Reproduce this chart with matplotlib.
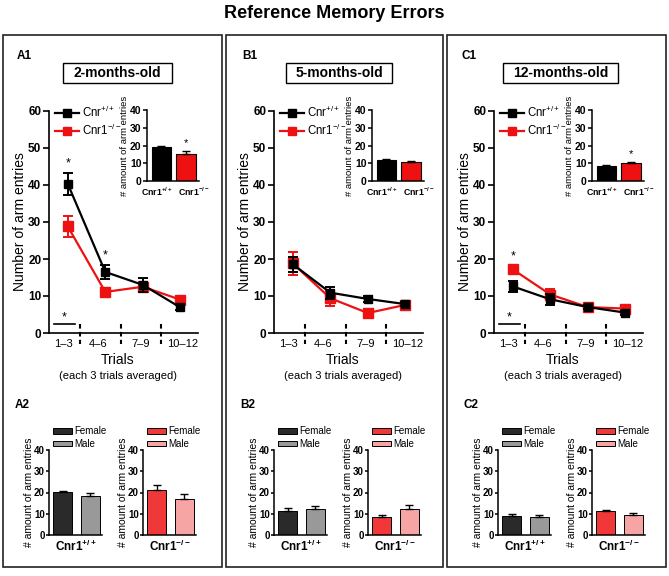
import matplotlib
matplotlib.use("Agg")
import matplotlib.pyplot as plt
from matplotlib.patches import Rectangle
from matplotlib.lines import Line2D
import numpy as np

plt.rcParams['font.family'] = ['Liberation Sans', 'DejaVu Sans']
plt.rcParams['mathtext.fontset'] = 'custom'
plt.rcParams['mathtext.rm'] = 'Liberation Sans'
plt.rcParams['mathtext.it'] = 'Liberation Sans:italic'
plt.rcParams['mathtext.bf'] = 'Liberation Sans:bold'

# ---------------- data ----------------
trial_labels = ['1–3', '4–6', '7–9', '10–12']
ages = ['2-months-old', '5-months-old', '12-months-old']
panel_top = ['A1', 'B1', 'C1']
panel_bot = ['A2', 'B2', 'C2']

wt_mean = [[40.3, 16.5, 13.0, 6.9], [18.6, 10.9, 9.2, 7.8], [12.6, 9.1, 7.0, 5.5]]
wt_sem = [[2.9, 1.8, 2.0, 0.8], [2.0, 1.6, 0.9, 0.6], [1.4, 1.4, 0.5, 0.5]]
ko_mean = [[28.8, 11.1, 12.5, 9.0], [18.8, 9.4, 5.4, 7.6], [17.2, 10.4, 7.0, 6.6]]
ko_sem = [[2.8, 1.0, 1.3, 0.8], [3.0, 2.0, 0.5, 0.9], [1.0, 1.5, 0.6, 0.8]]

total_mean = [[19.2, 15.4], [11.6, 10.5], [8.4, 10.3]]
total_sem = [[0.7, 1.4], [1.0, 0.8], [0.6, 0.4]]

sex_labels = ['Female', 'Male']
wt_sex_mean = [[20.2, 18.3], [11.2, 12.4], [8.8, 8.4]]
wt_sex_sem = [[0.3, 1.7], [1.3, 1.4], [0.9, 1.1]]
ko_sex_mean = [[21.3, 17.1], [8.5, 12.1], [11.2, 9.6]]
ko_sex_sem = [[2.0, 2.3], [1.1, 2.2], [0.5, 0.7]]

# significance markers (trial index) per age
trial_sig = [[0, 1], [], [0]]
group_sig = [True, False, True]
first_block_sig = [True, False, True]

geno_main = [r'Cnr$^{+/+}$', r'Cnr1$^{-/-}$']
geno_tick = [r'Cnr1$^{\mathbf{+/+}}$', r'Cnr1$^{\mathbf{-/-}}$']

RED = '#ee1111'
W, H = 669, 576
fig = plt.figure(figsize=(W / 100, H / 100), dpi=100)


def rect(x0, y0, x1, y1):
    return [x0 / W, 1 - y1 / H, (x1 - x0) / W, (y1 - y0) / H]


def fx(x):
    return x / W


def fy(y):
    return 1 - y / H


def style_axes(ax, lw=1.2):
    for s in ['top', 'right']:
        ax.spines[s].set_visible(False)
    for s in ['left', 'bottom']:
        ax.spines[s].set_linewidth(lw)


fig.text(0.5, fy(13), 'Reference Memory Errors', ha='center', va='center',
         fontsize=13, fontweight='bold')

box_x = [(3, 222), (226, 443), (447, 666)]
for (x0, x1) in box_x:
    fig.patches.append(Rectangle((fx(x0), fy(567)), (x1 - x0) / W, (567 - 35) / H,
                                 transform=fig.transFigure, fill=False,
                                 edgecolor='#222222', lw=1.2))

top_dx = [0, 225, 445]
title_box = [(63, 172), (286, 392), (503, 618)]
bot_dx = [0, 225, 449]

for i in range(3):
    dx = top_dx[i]
    fig.text(fx(17 + dx), fy(56), panel_top[i], ha='left', va='center',
             fontsize=8.5, fontweight='bold')
    bx0, bx1 = title_box[i]
    fig.patches.append(Rectangle((fx(bx0), fy(83)), (bx1 - bx0) / W, 20 / H,
                                 transform=fig.transFigure, fill=False,
                                 edgecolor='black', lw=1.0))
    fig.text(fx((bx0 + bx1) / 2), fy(73), ages[i], ha='center', va='center',
             fontsize=10, fontweight='bold')

    # ----- main line plot -----
    ax = fig.add_axes(rect(49 + dx, 111, 198 + dx, 333))
    style_axes(ax)
    x = np.arange(len(trial_labels))
    ax.errorbar(x, wt_mean[i], yerr=wt_sem[i], color='black', marker='s',
                markersize=6, lw=1.6, capsize=3.5, elinewidth=1.4,
                capthick=1.4, zorder=3)
    ax.errorbar(x, ko_mean[i], yerr=ko_sem[i], color=RED, marker='s',
                markersize=6.5, lw=1.6, capsize=3.5, elinewidth=1.4,
                capthick=1.4, zorder=2)
    ax.set_xlim(-0.5, 3.47)
    ax.set_ylim(0, 60)
    ax.set_yticks([0, 10, 20, 30, 40, 50, 60])
    ax.tick_params(axis='y', length=4, width=1.2, labelsize=8.5, pad=1.5)
    for t in ax.get_yticklabels():
        t.set_fontweight('bold')
    ax.set_xticks([-0.12, 0.82, 1.93, 3.05])
    ax.set_xticklabels(trial_labels, fontsize=8)
    ax.tick_params(axis='x', length=0, pad=4)
    for sx in [0.32, 1.42, 2.48]:
        ax.plot([sx, sx], [2.3, -3.0], color='black', lw=1.5,
                linestyle=(0, (2.2, 1.6)), clip_on=False)
    ax.set_ylabel('Number of arm entries', fontsize=10, labelpad=1)
    for k in trial_sig[i]:
        top = max(wt_mean[i][k] + wt_sem[i][k], ko_mean[i][k] + ko_sem[i][k])
        ax.text(k, top + 1.0, '*', ha='center', va='bottom', fontsize=9)
    if first_block_sig[i]:
        ax.plot([-0.37, 0.18], [2.4, 2.4], color='black', lw=1.2)
        ax.text(-0.1, 2.6, '*', ha='center', va='bottom', fontsize=9)
    handles = [Line2D([], [], color='black', marker='s', markersize=5.5, lw=1.6),
               Line2D([], [], color=RED, marker='s', markersize=6, lw=1.6)]
    ax.legend(handles, geno_main, loc='upper left', bbox_to_anchor=(0.04, 1.03),
              frameon=False, fontsize=8.3, handlelength=2.1, handletextpad=0.25,
              labelspacing=0.3, borderaxespad=0, borderpad=0)
    fig.text(fx(118 + dx), fy(360), 'Trials', ha='center', va='center', fontsize=10)
    fig.text(fx(118 + dx), fy(376), '(each 3 trials averaged)', ha='center',
             va='center', fontsize=8)

    # ----- inset bar -----
    ai = fig.add_axes(rect(147 + dx, 110, 199 + dx, 181))
    style_axes(ai, lw=1.1)
    ai.bar([0, 1], total_mean[i], width=0.8, color=['black', RED],
           edgecolor='black', lw=0.8)
    ai.errorbar([0, 1], total_mean[i],
                yerr=[[0, 0], total_sem[i]], fmt='none', ecolor='black',
                elinewidth=1.0, capsize=3, capthick=1.0)
    if group_sig[i]:
        ai.text(1, total_mean[i][1] + total_sem[i][1] + 1.5, '*', ha='center',
                va='bottom', fontsize=8)
    ai.set_xlim(-0.59, 1.53)
    ai.set_ylim(0, 40)
    ai.set_yticks([0, 10, 20, 30, 40])
    ai.tick_params(axis='y', length=3, width=1.1, labelsize=7.5, pad=1)
    for t in ai.get_yticklabels():
        t.set_fontweight('bold')
    ai.set_xticks([-0.2, 1.3])
    ai.set_xticklabels(geno_tick, fontsize=6.3, fontweight='bold')
    ai.tick_params(axis='x', length=0, pad=3)
    ai.set_ylabel('# amount of arm entries', fontsize=6.8, labelpad=0.5)

    # ----- bottom sex bars -----
    bdx = bot_dx[i]
    fig.text(fx(15 + bdx), fy(405), panel_bot[i], ha='left', va='center',
             fontsize=8.5, fontweight='bold')
    groups = [(49, wt_sex_mean[i], wt_sex_sem[i], ['#2a2a2a', '#999999'], geno_tick[0]),
              (143, ko_sex_mean[i], ko_sex_sem[i], ['#f03838', '#f6a4a4'], geno_tick[1])]
    for (x0, means, sems, cols, glab) in groups:
        ab = fig.add_axes(rect(x0 + bdx, 450, x0 + 53 + bdx, 535))
        style_axes(ab, lw=1.1)
        bars = ab.bar([0, 1], means, width=0.7, color=cols, edgecolor='black',
                      lw=0.7)
        ab.errorbar([0, 1], means, yerr=[[0, 0], sems], fmt='none',
                    ecolor='black', elinewidth=1.0, capsize=3, capthick=1.0)
        ab.set_xlim(-0.5, 1.42)
        ab.set_ylim(0, 40)
        ab.set_yticks([0, 10, 20, 30, 40])
        ab.tick_params(axis='y', length=2.5, width=1.1, labelsize=7, pad=0.5)
        for t in ab.get_yticklabels():
            t.set_fontweight('bold')
        ab.set_xticks([])
        ab.set_xlabel(glab, fontsize=8.5, fontweight='bold', labelpad=3)
        ab.set_ylabel('# amount of arm entries', fontsize=7.5, labelpad=0)
        ab.legend(bars, sex_labels, loc='lower left',
                  bbox_to_anchor=(fx(x0 + 4 + bdx), fy(449)),
                  bbox_transform=fig.transFigure, frameon=False, fontsize=7,
                  handlelength=2.0, handleheight=0.55, handletextpad=0.2,
                  labelspacing=0.3, borderaxespad=0, borderpad=0)

fig.savefig('out.png', dpi=100)
